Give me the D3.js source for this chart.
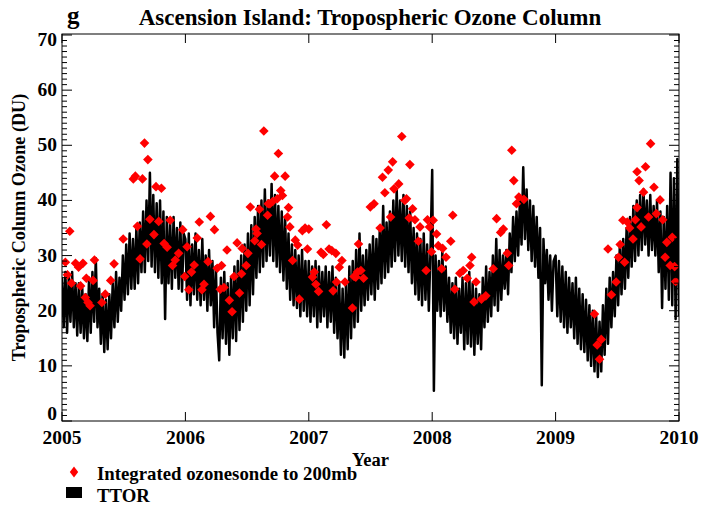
<!DOCTYPE html>
<html><head><meta charset="utf-8">
<script src="https://cdn.jsdelivr.net/npm/d3@7"></script>
<style>body{margin:0;background:#fff}svg{display:block}</style>
</head><body><svg id="c" width="701" height="505"></svg>
<script>
// ---------------- DATA ----------------
const yTicks = [0, 10, 20, 30, 40, 50, 60, 70];
const xTicks = [2005, 2006, 2007, 2008, 2009, 2010];
const ttorStepDays = 5; // TTOR samples every 5 days from Jan 1 of each year

const ttor2005 = [26,17,27,16,26,18,27,17,25,15.5,25,16,24,15,23,14.5,26,16,27,18,29.5,17,24,14,23,12.5,22,13,23,15,25,17,27,18,26,20,30,22,32,23,34,24,33,24,35,25,36,27,38,27,40,29,45,28,41,27,39.5,26,40,25,38,18.5,37,25,36,24,37,26,35,24,36,23.5,34];
const ttor2006 = [33,22,34,21,32,23,34,22,31,21,33,22,30,20,31,21,29,17,28,16,11,26,15,27,14,25,12,26,15,28,14.5,29,16.5,30,18,32,20,34,21,35.5,23,37,26,39,27,40,28,42,29,40,30,43,29,41,28,39,27,38,25.5,37,24,34,22,32,21,31,20.5,30,19,31,20,29,19];
const ttor2007 = [29,18,28,19,29,17,28,18,27,19,28,17,27,18,28,16,26,15,25,12,24,11.5,25,13,28,15,29,17,31,18,34,20,30,21,31,22,32,23,33.5,22,33,24,35,25,39,26,36,27,38,28,40,29,42,30,40,29,41,28,39,27,38,25,35,23,34,22,33,21,34,22,32,20,31];
const ttor2008 = [45.5,5.5,30,20,29,19,31,20,28,18,26,16,25,15,26,14,24,16,26,13,25,14,27,13.5,25,12,24,14,23,13,26,17,28,18,27,19,30,21,33,20,31,22,30,24,31,23,34,27,37,29,38,30,40,32,46,33,42,31,40,29,39,28,37,26,35,6.5,33,25,31,22,30,20,29];
const ttor2009 = [30,19,29,18,28,17,27,16,26,17,25,15,26,14,24,13,23,12.5,22,11,21,10,20,9,19,8,18,9,21,12,24,14,26,17,27,19,30,21,32,23,33,24,35,26,37,28,39,29,40,30,41,31,42,32,40,30,41,31,39,30,40,27,38,20.5,37,24,39,22,45,21,44,18.5,47.5,19];

const sonde2005 = [[10,28.8],[16,26.5],[23,34.4],[28,25],[40,28.6],[49,27.9],[55,24.5],[62,28.6],[69,22.4],[72,25.9],[77,21.5],[83,20.9],[92,25.5],[96,29.2],[118,21.5],[128,23],[144,25.5],[154,28.5],[181,33],[211,43.9],[217,44.4],[223,35.3],[231,29.4],[238,43.9],[244,50.4],[251,32.1],[254,47.4],[260,36.6],[272,33.8],[278,42.5],[286,36.2],[294,42.2],[302,32.2],[311,31.5],[320,36.4],[327,28.2],[335,29.2],[345,30.4],[357,34.7],[363,26.2]];
const sonde2006 = [[5,31.6],[10,23.8],[18,27],[26,28.3],[35,33.2],[41,36.1],[49,23.8],[55,24.8],[67,28.9],[74,37.1],[86,34.7],[94,27.7],[103,23.9],[107,28.2],[114,24.2],[123,31],[130,21.9],[138,19.8],[144,26.2],[153,32.3],[160,23.2],[166,26.7],[168,31.3],[180,28.2],[185,30.4],[192,38.8],[205,32.7],[209,34.8],[212,34],[219,38.4],[225,32],[232,52.6],[243,37.3],[245,39.4],[250,39.4],[258,39.8],[264,44.4],[272,40.3],[275,48.5],[282,41.8],[287,40.9],[295,44.4],[302,37],[305,38.7],[309,35.2],[317,29.1],[325,32.8],[332,31.9],[337,22.1],[346,34.5],[354,35],[361,31.2]];
const sonde2007 = [[0,34.8],[11,26.1],[16,27],[21,24.8],[29,23.5],[36,30.6],[43,30.2],[52,35.6],[60,31.2],[68,30.9],[72,23.6],[80,30.4],[82,25.2],[90,27.9],[98,29.1],[107,25.2],[129,20.5],[134,26.2],[139,26.1],[144,27],[147,32.1],[154,27.3],[162,25.9],[182,38.8],[193,39.4],[211,35],[218,44.2],[225,41.4],[235,45.5],[242,37],[248,47],[252,42.1],[266,43],[275,51.6],[284,40],[289,40.3],[297,36.8],[299,46.5],[307,38.5],[314,36.5],[324,32.6],[329,35.2],[347,27.3],[351,36.5],[357,35.2],[363,30.7]];
const sonde2008 = [[3,36.4],[13,33.9],[18,31.8],[28,27.6],[31,31.3],[41,29.7],[55,32.6],[61,37.3],[67,23.9],[82,26.8],[92,27.3],[104,25.9],[112,28.2],[117,29.7],[124,21.6],[130,25.2],[146,22.1],[159,22.7],[181,27.6],[191,36.7],[203,34.2],[211,34.8],[223,30.4],[227,28.2],[236,49.1],[242,43.6],[250,39.4],[257,40.6],[272,40.2]];
const sonde2009 = [[115,19.4],[123,13.8],[130,11.2],[135,14.8],[155,31.2],[165,22.9],[179,25.2],[186,29.7],[191,32],[199,36.4],[204,28.8],[212,36.1],[219,35],[229,33],[236,36.5],[241,38.7],[241,45.2],[247,43.6],[253,35.2],[260,41.5],[266,46.1],[275,37],[281,50.3],[291,42.4],[298,37.6],[309,40.1],[317,36.5],[324,29.7],[329,32.4],[339,28.2],[345,33.3],[352,28],[355,25.3]];

const ttorByYear = {2005: ttor2005, 2006: ttor2006, 2007: ttor2007, 2008: ttor2008, 2009: ttor2009};
const sondeByYear = {2005: sonde2005, 2006: sonde2006, 2007: sonde2007, 2008: sonde2008, 2009: sonde2009};

// ---------------- CHART ----------------
const FONT = "'Liberation Serif','Times New Roman',serif";
const svg = d3.select('#c');
const L = 62, R = 679, T = 34, B = 421;
const x = d3.scaleLinear().domain([2005, 2010]).range([L, R]);
const y = d3.scaleLinear().domain([0, 70]).range([B, 35]);
const frac = (yr, d) => yr + d / ((yr % 4 === 0) ? 366 : 365);

const ttor = [];
Object.keys(ttorByYear).forEach(k => {
  const yr = +k;
  ttorByYear[k].forEach((v, i) => ttor.push([frac(yr, Math.min(i * ttorStepDays, 365)), v]));
});
const sonde = [];
Object.keys(sondeByYear).forEach(k => {
  const yr = +k;
  sondeByYear[k].forEach(p => sonde.push([frac(yr, p[0]), p[1]]));
});

svg.append('clipPath').attr('id', 'clip').append('rect')
  .attr('x', L).attr('y', T).attr('width', R - L).attr('height', B - T);

const g = svg.append('g').attr('clip-path', 'url(#clip)');
g.append('path').datum(ttor)
  .attr('d', d3.line().x(d => x(d[0])).y(d => y(d[1])))
  .attr('fill', 'none').attr('stroke', '#000').attr('stroke-width', 2.5)
  .attr('stroke-linejoin', 'round');

const dia = (cx, cy, w, h) => `M${cx},${cy - h}L${cx + w},${cy}L${cx},${cy + h}L${cx - w},${cy}Z`;
g.selectAll('path.s').data(sonde).enter().append('path').attr('class', 's')
  .attr('d', d => dia(x(d[0]), y(d[1]), 4.8, 4.8))
  .attr('fill', '#ff0000');

// frame
svg.append('rect').attr('x', L).attr('y', T).attr('width', R - L).attr('height', B - T)
  .attr('fill', 'none').attr('stroke', '#000').attr('stroke-width', 1);

// y ticks (left & right), minor every 1 DU
const minorY = d3.range(0, 71, 1);
minorY.forEach(v => {
  const isMajor = v % 10 === 0;
  const len = isMajor ? 10 : 5;
  svg.append('line').attr('x1', L).attr('x2', L + len).attr('y1', y(v)).attr('y2', y(v))
    .attr('stroke', '#000').attr('stroke-width', 1);
  svg.append('line').attr('x1', R).attr('x2', R - len).attr('y1', y(v)).attr('y2', y(v))
    .attr('stroke', '#000').attr('stroke-width', 1);
});
xTicks.forEach(t => {
  svg.append('line').attr('x1', x(t)).attr('x2', x(t)).attr('y1', B).attr('y2', B - 9)
    .attr('stroke', '#000');
  svg.append('line').attr('x1', x(t)).attr('x2', x(t)).attr('y1', T).attr('y2', T + 9)
    .attr('stroke', '#000');
});

const txt = (s, px, py, size, anchor) => svg.append('text').text(s)
  .attr('x', px).attr('y', py).attr('font-family', FONT).attr('font-weight', 'bold')
  .attr('font-size', size).attr('text-anchor', anchor || 'middle').attr('fill', '#000');

yTicks.forEach(v => {
  let by = y(v) + 6;
  if (v === 0) by = y(v) - 1;
  if (v === 70) by = y(v) + 11;
  txt(String(v), L - 5, by, 19.5, 'end');
});
xTicks.forEach(t => txt(String(t), x(t), 444, 19.5));

txt('Year', x(2007.5), 466, 18.5);
svg.append('text').text('Tropospheric Column Ozone (DU)')
  .attr('transform', `translate(25,${(T + B) / 2}) rotate(-90)`)
  .attr('font-family', FONT).attr('font-weight', 'bold').attr('font-size', 18.2)
  .attr('text-anchor', 'middle');

txt('g', 67, 24, 25, 'start');
txt('Ascension Island: Tropospheric Ozone Column', 370, 25, 23);

// legend
svg.append('path').attr('d', dia(74, 472, 4.2, 5.5)).attr('fill', '#ff0000');
txt('Integrated ozonesonde to 200mb', 97, 480, 18.8, 'start');
svg.append('rect').attr('x', 66).attr('y', 487).attr('width', 16).attr('height', 11).attr('fill', '#000');
txt('TTOR', 97, 502, 18.8, 'start');
</script>
</body></html>
